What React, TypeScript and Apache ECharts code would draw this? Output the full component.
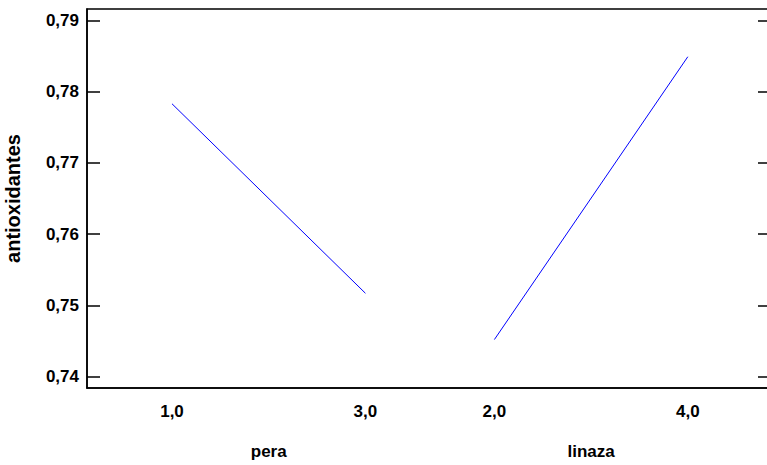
import React, { useEffect, useRef } from "react";
import * as echarts from "echarts";

const factors = ["pera", "linaza"];
const levelLabels = [["1,0", "3,0"], ["2,0", "4,0"]];
const levelSlots = [[0, 3], [5, 8]];
const meanValues = [[0.7783, 0.7517], [0.7452, 0.7849]];
const yTicks = [0.74, 0.75, 0.76, 0.77, 0.78, 0.79];
const yName = "antioxidantes";
const yMin = 0.7384;
const yMax = 0.7916;
const xMin = -1.318;
const xMax = 9.29;

const FONT = "'Liberation Sans', Arial, sans-serif";

export default function App() {
  const ref = useRef<HTMLDivElement>(null);
  useEffect(() => {
    if (!ref.current) return;
    const chart = echarts.init(ref.current, undefined, { renderer: "svg" });
    const slotVals: number[] = [];
    const slotText: string[] = [];
    levelSlots.forEach((s, i) => s.forEach((v, j) => { slotVals.push(v); slotText.push(levelLabels[i][j]); }));
    const factorPos = levelSlots.map((s) => (s[0] + s[s.length - 1]) / 2);
    const findLabel = (vals: number[], texts: string[], v: number) => {
      const k = vals.findIndex((x) => Math.abs(x - v) < 1e-6);
      return k >= 0 ? texts[k] : "";
    };
    const black = { color: "#000", width: 1.5 };
    const labelStyle = { color: "#000", fontFamily: FONT, fontWeight: "bold" as const, fontSize: 17 };
    chart.setOption({
      animation: false,
      backgroundColor: "#fff",
      grid: {
        left: 87, top: 9, right: -4, bottom: 77, show: true, borderColor: "#000", borderWidth: 1.5,
        containLabel: false, outerBoundsMode: "none",
      },
      xAxis: [
        {
          type: "value", min: xMin, max: xMax, position: "bottom",
          axisLine: { show: true, onZero: false, lineStyle: black },
          axisTick: { show: false }, splitLine: { show: false },
          axisLabel: { ...labelStyle, margin: 15, customValues: slotVals, formatter: (v: number) => findLabel(slotVals, slotText, v) },
        },
        {
          type: "value", min: xMin, max: xMax, position: "bottom",
          axisLine: { show: false }, axisTick: { show: false }, splitLine: { show: false },
          axisLabel: { ...labelStyle, margin: 55, customValues: factorPos, formatter: (v: number) => findLabel(factorPos, factors, v) },
        },
      ],
      yAxis: [
        {
          type: "value", min: yMin, max: yMax, position: "left",
          name: yName, nameLocation: "middle", nameGap: 64, nameRotate: 90,
          nameTextStyle: { ...labelStyle, fontSize: 20 },
          axisLine: { show: true, onZero: false, lineStyle: black },
          axisTick: { show: true, inside: true, length: 13, lineStyle: black, customValues: yTicks },
          splitLine: { show: false },
          axisLabel: { ...labelStyle, margin: 8, customValues: yTicks, formatter: (v: number) => v.toFixed(2).replace(".", ",") },
        },
        {
          type: "value", min: yMin, max: yMax, position: "right",
          axisLine: { show: true, onZero: false, lineStyle: black },
          axisTick: { show: true, inside: true, length: 13, lineStyle: black, customValues: yTicks },
          splitLine: { show: false }, axisLabel: { show: false },
        },
      ],
      series: factors.map((f, i) => ({
        name: f, type: "line", xAxisIndex: 0, yAxisIndex: 0,
        showSymbol: false, symbol: "none",
        lineStyle: { color: "#0000ff", width: 1 },
        data: levelSlots[i].map((x, j) => [x, meanValues[i][j]]),
      })),
    });
    return () => chart.dispose();
  }, []);
  return <div ref={ref} style={{ position: "absolute", left: 0, top: 0, width: 767, height: 465 }} />;
}
